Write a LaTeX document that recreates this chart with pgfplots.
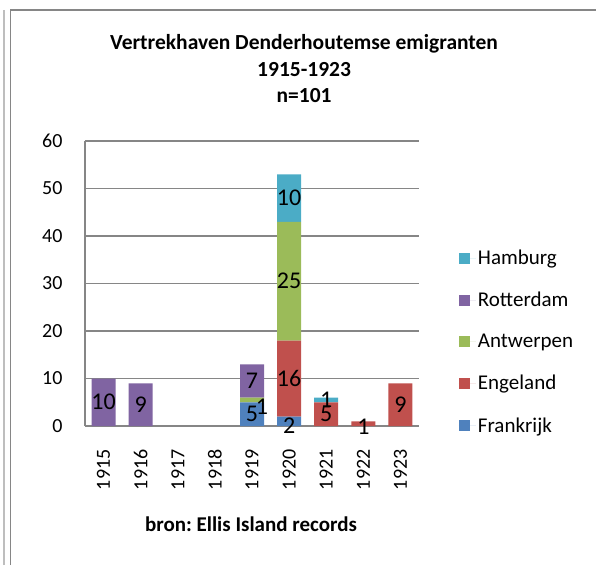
\documentclass[border=0pt]{standalone}
\usepackage{fontspec}
\setmainfont{Carlito}
\usepackage{pgfplots}
\usepackage{pgfplotstable}
\pgfplotsset{compat=1.18}
\definecolor{cF}{HTML}{4F81BD}
\definecolor{cE}{HTML}{C0504D}
\definecolor{cA}{HTML}{9BBB59}
\definecolor{cR}{HTML}{8064A2}
\definecolor{cH}{HTML}{4BACC6}
\definecolor{axgray}{HTML}{868686}
\definecolor{lgray}{HTML}{BEBEBE}
\pgfplotstableread{
x F E A R H
0 0 0 0 10 0
1 0 0 0 9 0
2 0 0 0 0 0
3 0 0 0 0 0
4 5 0 1 7 0
5 2 16 25 0 10
6 0 5 0 0 1
7 0 1 0 0 0
8 0 9 0 0 0
}\data
\begin{document}
\frenchspacing
\begin{tikzpicture}[x=1pt,y=1pt]
\useasboundingbox (0,0) rectangle (596,565);
\draw[line width=1.5pt, color=lgray] (4,0) -- (4,555);
\draw[line width=1.8pt, color=axgray] (10.5,0) -- (10.5,555) -- (596,555);
\begin{axis}[
  at={(85pt,139pt)}, anchor=south west,
  scale only axis, width=334pt, height=285pt,
  ybar stacked, bar width=24pt,
  xmin=-0.5, xmax=8.5, ymin=0, ymax=60,
  xtick={0,1,2,3,4,5,6,7,8},
  xticklabels={1915,1916,1917,1918,1919,1920,1921,1922,1923},
  ytick={0,10,20,30,40,50,60},
  axis lines*=left, axis line style={-, axgray, line width=1.2pt},
  ymajorgrids, grid style={axgray, line width=1.2pt},
  tick style={draw=none},
  /pgf/number format/assume math mode=true,
  yticklabel style={font=\fontsize{20}{24}\selectfont, anchor=east, xshift=-19pt},
  xticklabel style={font=\fontsize{20}{24}\selectfont, rotate=90, anchor=east, xshift=-20pt},
  title={Vertrekhaven Denderhoutemse emigranten\\1915-1923\\n=101},
  title style={at={(axis description cs:0.656,1.232)}, anchor=center, align=center,
    font=\bfseries\fontsize{21.5}{26.5}\selectfont},
  xlabel={bron: Ellis Island records},
  xlabel style={at={(axis description cs:0.497,-0.344)}, anchor=center,
    font=\bfseries\fontsize{21}{25}\selectfont},
  point meta=explicit,
  visualization depends on={rawx \as \myx},
  nodes near coords={\pgfmathfloatifflags{\pgfplotspointmeta}{0}{}{\pgfmathprintnumber{\pgfplotspointmeta}}},
  every node near coord/.append style={font=\fontsize{24}{28}\selectfont, text=black, anchor=center},
  seg/.style={draw=none, fill=#1},
  legend image code/.code={\path[#1, draw=none] (0pt,-5.5pt) rectangle (11pt,5.5pt);
    \path (0pt,0pt) -- (17pt,0pt);},
  reverse legend,
  legend style={at={(1.11,0.295)}, anchor=west, draw=none, fill=none,
    font=\fontsize{21}{25}\selectfont, row sep=22pt, cells={anchor=west}},
]
\addplot[seg=cF,
  every node near coord/.append style={yshift={-4pt*(\myx==5)}}] table[x=x,y=F,meta=F] {\data};
\addlegendentry{Frankrijk}
\addplot[seg=cE,
  every node near coord/.append style={yshift={-3pt*(\myx==7)}}] table[x=x,y=E,meta=E] {\data};
\addlegendentry{Engeland}
\addplot[seg=cA,
  every node near coord/.append style={xshift={10pt*(\myx==4)}, yshift={-7pt*(\myx==4)}}] table[x=x,y=A,meta=A] {\data};
\addlegendentry{Antwerpen}
\addplot[seg=cR] table[x=x,y=R,meta=R] {\data};
\addlegendentry{Rotterdam}
\addplot[seg=cH] table[x=x,y=H,meta=H] {\data};
\addlegendentry{Hamburg}
\end{axis}
\end{tikzpicture}
\end{document}
